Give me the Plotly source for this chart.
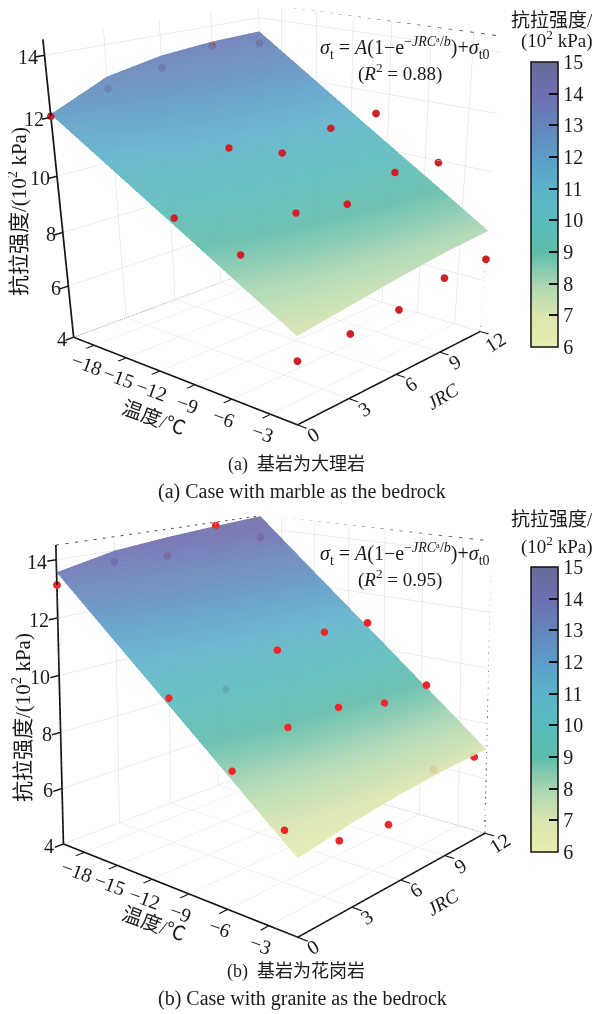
import plotly.graph_objects as go

# ---- data ----
temp_grid = [-20, -15, -10, -5, -1]
jrc_grid = [0, 3, 6, 9, 12]
surface_a = [
    [12.10, 12.95, 13.30, 13.45, 13.50],
    [10.77, 11.46, 11.79, 11.95, 12.02],
    [9.44, 9.98, 10.27, 10.45, 10.54],
    [8.10, 8.49, 8.76, 8.95, 9.07],
    [7.05, 7.30, 7.55, 7.75, 7.88],
]
surface_b = [
    [13.57, 14.00, 14.20, 14.35, 14.48],
    [11.68, 12.08, 12.28, 12.42, 12.53],
    [9.80, 10.16, 10.36, 10.50, 10.59],
    [7.91, 8.24, 8.44, 8.57, 8.64],
    [6.40, 6.70, 6.90, 7.03, 7.08],
]
jrc_points = [0, 3, 6, 9, 12]
temp_points_a = [-20, -10, -5, -1]
temp_points_b = [-20, -10.4, -5.6, -1.9]
points_a = [
    [12.04, 12.55, 12.88, 13.30, 13.07],
    [9.70, 11.44, 10.78, 11.16, 11.24],
    [9.12, 9.85, 9.56, 10.10, 9.93],
    [6.22, 6.32, 6.39, 6.81, 6.82],
]
points_b = [
    [13.14, 13.61, 13.51, 14.37, 13.63],
    [10.19, 9.94, 10.78, 10.97, 10.88],
    [8.43, 9.18, 9.26, 8.84, 8.95],
    [7.12, 6.00, 5.74, 6.92, 6.70],
]
x_ticks = [-18, -15, -12, -9, -6, -3]
y_ticks = [0, 3, 6, 9, 12]
z_ticks = [4, 6, 8, 10, 12, 14]
cbar_ticks = [6, 7, 8, 9, 10, 11, 12, 13, 14, 15]
x_range = [-20, -1]
y_range = [0, 12]
z_range = [4, 14.5]

# ---- style ----
FONT = "Liberation Serif, Noto Sans CJK SC"
INK = "#1a1a1a"
W, H, PAGE = 592, 1006, 8   # the page body adds an 8 px margin
colorscale = [
    [0.00, "#e9edb0"], [0.11, "#dbe6ae"], [0.22, "#a9d6b2"], [0.33, "#5fbcaa"],
    [0.44, "#59bbbb"], [0.56, "#5db2cb"], [0.67, "#5c9cc8"], [0.78, "#6585bb"],
    [0.89, "#6e6eb2"], [1.00, "#686d96"],
]
camera_a = dict(eye=dict(x=2.581, y=-2.83, z=1.097), center=dict(x=0.206, y=-0.103, z=-1.038), up=dict(x=0, y=0, z=1))
camera_b = dict(eye=dict(x=2.536, y=-2.871, z=1.066), center=dict(x=-0.149, y=0.317, z=0.552), up=dict(x=0, y=0, z=1))
aspect_a = dict(x=1, y=0.938, z=0.944)
aspect_b = dict(x=1, y=0.96, z=0.982)


def axis(rng, ticks):
    return dict(range=rng, tickvals=ticks, showticklabels=False, title=dict(text=""),
                showbackground=False, showspikes=False, showgrid=True, gridcolor="#dcdcdc", gridwidth=1,
                zeroline=False, showline=True, linecolor="#111", linewidth=3.5,
                ticks="inside", ticklen=9, tickcolor="#111", tickwidth=3, autorange=False)


def labels(z_shift):
    out = []
    base = dict(showarrow=False, font=dict(family=FONT, size=20, color=INK))
    for t in x_ticks:
        out.append(dict(base, x=t, y=y_range[0], z=z_range[0], text=f"\u2212{abs(t)}", textangle=20, xshift=-8, yshift=-19))
    for t in y_ticks:
        out.append(dict(base, x=x_range[1], y=t, z=z_range[0], text=str(t), textangle=-32, xshift=15, yshift=-10))
    for t in z_ticks:
        out.append(dict(base, x=x_range[0], y=y_range[0], z=t, text=str(t), xanchor="right", xshift=z_shift, yshift=-2))
    return out


def frame(scene):
    lo_x, hi_x = x_range
    lo_y, hi_y = y_range
    lo_z, hi_z = z_range
    segs = [
        ([lo_x, lo_x, hi_x], [lo_y, hi_y, hi_y], [hi_z, hi_z, hi_z], "dash", "#555", 2),
        ([hi_x, hi_x], [hi_y, hi_y], [lo_z, hi_z], "dash", "#555", 3),
        ([lo_x, lo_x, hi_x], [lo_y, hi_y, hi_y], [lo_z, lo_z, lo_z], "dot", "#555", 1.5),
        ([lo_x, lo_x], [hi_y, hi_y], [lo_z, hi_z], "dash", "#cccccc", 1),
    ]
    return [go.Scatter3d(x=a, y=b, z=c, mode="lines", scene=scene, showlegend=False, hoverinfo="skip",
                         line=dict(color=col, width=w, dash=d)) for a, b, c, d, col, w in segs]


def panel(scene, surf, temps, pts, color, cb_top):
    traces = frame(scene)
    traces.append(go.Surface(x=temp_grid, y=jrc_grid, z=[list(r) for r in zip(*surf)], scene=scene,
                             cmin=6, cmax=15, colorscale=colorscale, opacity=0.9, hoverinfo="skip",
                             lighting=dict(ambient=1, diffuse=0, specular=0, roughness=1, fresnel=0),
                             colorbar=dict(x=(531 - PAGE) / W, xanchor="left", xpad=0, ypad=0,
                                           y=1 - (cb_top - PAGE) / H, yanchor="top",
                                           len=285 / H, lenmode="fraction", thickness=27, thicknessmode="pixels",
                                           tickvals=cbar_ticks, ticks="inside", ticklen=9, tickwidth=1.5, tickcolor="#111",
                                           outlinecolor="#111", outlinewidth=1.5,
                                           tickfont=dict(family=FONT, size=20, color=INK))))
    xs, ys, zs = [], [], []
    for t, row in zip(temps, pts):
        for j, v in zip(jrc_points, row):
            xs.append(t); ys.append(j); zs.append(v)
    traces.append(go.Scatter3d(x=xs, y=ys, z=zs, mode="markers", scene=scene, showlegend=False, hoverinfo="skip",
                               marker=dict(size=4.5, color=color, line=dict(width=0))))
    return traces


fig = go.Figure()
for tr in panel("scene", surface_a, temp_points_a, points_a, "#cf2027", 62):
    fig.add_trace(tr)
for tr in panel("scene2", surface_b, temp_points_b, points_b, "#ee2529", 567):
    fig.add_trace(tr)


def scene_layout(camera, aspect, z_shift):
    return dict(domain=dict(x=[0, 1], y=[0, 1]), camera=camera, aspectmode="manual", aspectratio=aspect,
                xaxis=axis(x_range, x_ticks), yaxis=axis(y_range, y_ticks), zaxis=axis(z_range, z_ticks),
                bgcolor="rgba(0,0,0,0)", annotations=labels(z_shift))


def note(px, py, text, size=17, angle=0):
    return dict(xref="paper", yref="paper", x=(px - PAGE) / W, y=1 - (py - PAGE) / H, text=text, showarrow=False,
                textangle=angle, font=dict(family=FONT, size=size, color=INK), xanchor="center", yanchor="middle")


formula = ("<i>\u03c3</i><sub>t</sub> = <i>A</i>(1\u2212e<sup>\u2212<i>JRC</i>\u1d43/<i>b</i></sup>)+<i>\u03c3</i><sub>t0</sub>")
notes = []
for dy, title_x, head_y, tag, zh, en, r2 in [
    (0, 17, 20, "(a)", "\u57fa\u5ca9\u4e3a\u5927\u7406\u5ca9", "(a) Case with marble as the bedrock", "0.88"),
    (506, 21, 14, "(b)", "\u57fa\u5ca9\u4e3a\u82b1\u5c97\u5ca9", "(b) Case with granite as the bedrock", "0.95"),
]:
    notes += [
        note(405, 48 + dy, formula, 20),
        note(400, 72 + dy, f"(<i>R</i><sup>2</sup> = {r2})", 19),
        note(552, head_y + dy, "\u6297\u62c9\u5f3a\u5ea6/", 19),
        note(557, 39 + dy, "(10<sup>2</sup> kPa)", 19),
        note(title_x, 212 + dy, "\u6297\u62c9\u5f3a\u5ea6/(10<sup>2</sup> kPa)", 21, -90),
        note(154, 418 + dy, "\u6e29\u5ea6/\u2103", 20, 20),
        note(442, 396 + dy, "<i>JRC</i>", 19, -31),
        note(296, 465 + dy, f"{tag}  {zh}", 18),
        note(302, 492 + dy, en, 20),
    ]

fig.update_layout(width=W, height=H, margin=dict(l=0, r=0, t=0, b=0), paper_bgcolor="white", showlegend=False,
                  scene=scene_layout(camera_a, aspect_a, -5), scene2=scene_layout(camera_b, aspect_b, -7),
                  annotations=notes)
fig.write_html("out.html")
